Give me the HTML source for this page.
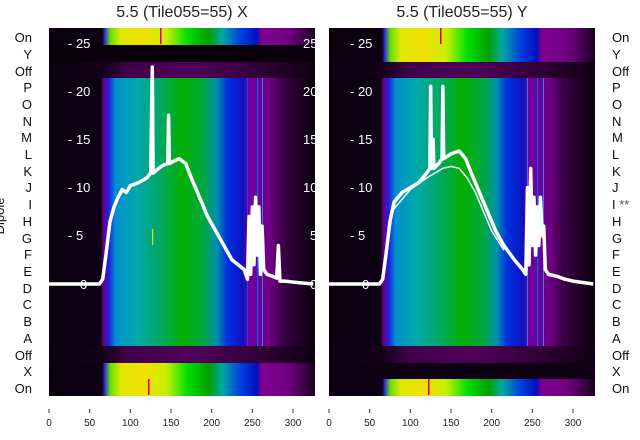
<!DOCTYPE html>
<html><head><meta charset="utf-8"><style>
body{margin:0;background:#fff;}
svg{display:block;font-family:"Liberation Sans","DejaVu Sans",sans-serif;}
</style></head><body>
<svg width="640" height="440" viewBox="0 0 640 440">
<defs>
<linearGradient id="main" x1="0" x2="1" y1="0" y2="0">
<stop offset="0" stop-color="#0b0010"/>
<stop offset="0.195" stop-color="#0e0014"/>
<stop offset="0.205" stop-color="#6a008a"/>
<stop offset="0.225" stop-color="#2020e0"/>
<stop offset="0.25" stop-color="#0090d0"/>
<stop offset="0.33" stop-color="#00a8a8"/>
<stop offset="0.42" stop-color="#00a860"/>
<stop offset="0.5" stop-color="#00b000"/>
<stop offset="0.58" stop-color="#00a840"/>
<stop offset="0.63" stop-color="#0090b0"/>
<stop offset="0.67" stop-color="#0030e0"/>
<stop offset="0.73" stop-color="#1010c0"/>
<stop offset="0.75" stop-color="#7000a0"/>
<stop offset="0.83" stop-color="#700085"/>
<stop offset="0.88" stop-color="#3a0045"/>
<stop offset="1" stop-color="#0a000c"/>
</linearGradient>
<linearGradient id="bright" x1="0" x2="1" y1="0" y2="0">
<stop offset="0" stop-color="#0b0010"/>
<stop offset="0.2" stop-color="#0e0014"/>
<stop offset="0.21" stop-color="#3030e0"/>
<stop offset="0.23" stop-color="#60e000"/>
<stop offset="0.27" stop-color="#e0e800"/>
<stop offset="0.36" stop-color="#f0e000"/>
<stop offset="0.44" stop-color="#c8f000"/>
<stop offset="0.52" stop-color="#00e000"/>
<stop offset="0.6" stop-color="#00a000"/>
<stop offset="0.65" stop-color="#00a8a0"/>
<stop offset="0.72" stop-color="#0040e0"/>
<stop offset="0.78" stop-color="#0010c0"/>
<stop offset="0.8" stop-color="#800090"/>
<stop offset="0.9" stop-color="#700080"/>
<stop offset="1" stop-color="#1a0020"/>
</linearGradient>
<linearGradient id="off" x1="0" x2="1" y1="0" y2="0">
<stop offset="0" stop-color="#0b0010"/>
<stop offset="0.2" stop-color="#14001a"/>
<stop offset="0.3" stop-color="#40004a"/>
<stop offset="0.55" stop-color="#50005a"/>
<stop offset="0.8" stop-color="#300036"/>
<stop offset="1" stop-color="#0e0012"/>
</linearGradient>
<clipPath id="c1"><rect x="49" y="28" width="266" height="368"/></clipPath>
<clipPath id="c2"><rect x="329" y="28" width="266" height="368"/></clipPath>
</defs>

<text x="182" y="17" font-size="16" text-anchor="middle" fill="#222">5.5 (Tile055=55) X</text>
<text x="462" y="17" font-size="16" text-anchor="middle" fill="#222">5.5 (Tile055=55) Y</text>

<!-- Panel 1 -->
<g clip-path="url(#c1)">
<rect x="49" y="28" width="266" height="368" fill="#0b0010"/>
<rect x="49" y="28" width="266" height="17" fill="url(#bright)"/>
<rect x="49" y="45" width="266" height="17" fill="#0a000c"/>
<rect x="49" y="62" width="266" height="16" fill="url(#off)"/>
<rect x="49" y="78" width="266" height="268" fill="url(#main)"/>
<rect x="49" y="346" width="266" height="17" fill="url(#off)"/>
<rect x="49" y="363" width="266" height="33" fill="url(#bright)"/>
<rect x="160" y="28" width="1.5" height="16" fill="#e00000"/>
<rect x="148" y="379" width="1.5" height="16" fill="#e00000"/>
<rect x="152" y="229" width="1.2" height="16" fill="#e0e000"/>
<rect x="247" y="78" width="1" height="268" fill="#2040ff"/>
<rect x="257" y="78" width="1.2" height="268" fill="#0060ff"/>
<rect x="262" y="78" width="1" height="268" fill="#3080ff"/>
<g font-size="13" fill="#fff">
<text x="68" y="48">- 25</text><text x="68" y="96">- 20</text><text x="68" y="144">- 15</text>
<text x="68" y="192">- 10</text><text x="68" y="240">- 5</text><text x="80" y="289">0</text>
<text x="303" y="48">25</text><text x="303" y="96">20</text><text x="303" y="144">15</text>
<text x="303" y="192">10</text><text x="310" y="240">5</text><text x="310" y="289">0</text>
</g>
<g transform="translate(49,284) scale(0.8133,-9.64)">
<polyline vector-effect="non-scaling-stroke" fill="none" stroke="#fff" stroke-width="3.5" stroke-linejoin="round"
points="0,0 62,0 66,0.5 70,3 75,6.5 80,8 85,9 90,9.8 95,9.5 100,10.2 110,10.5 120,11 125,11.5 127,22.5 128,11.5 135,12 140,12.3 146,12.5 147,17.5 148,12.5 155,12.8 160,13 168,12.5 175,11 185,9 195,7 205,5.5 215,4 225,2.5 240,1.5 244,0.5 246,7 248,1 250,8 252,2 254,9 256,3 258,8 260,1 262,6 264,1.5 268,1 275,0.8 280,0.6 282,4 284,0.3 290,0.3 300,0.2 325,0"/>
</g>
</g>

<!-- Panel 2 -->
<g clip-path="url(#c2)">
<rect x="329" y="28" width="266" height="368" fill="#0b0010"/>
<rect x="329" y="28" width="266" height="34" fill="url(#bright)"/>
<rect x="329" y="62" width="266" height="16" fill="url(#off)"/>
<rect x="329" y="78" width="266" height="268" fill="url(#main)"/>
<rect x="329" y="346" width="266" height="17" fill="url(#off)"/>
<rect x="329" y="363" width="266" height="16" fill="#0e0012"/>
<rect x="329" y="379" width="266" height="17" fill="url(#bright)"/>
<rect x="440" y="28" width="1.5" height="16" fill="#e00000"/>
<rect x="428" y="379" width="1.5" height="16" fill="#e00000"/>
<rect x="527" y="78" width="1" height="268" fill="#2080ff"/>
<rect x="537" y="78" width="1.2" height="268" fill="#0060ff"/>
<rect x="543" y="78" width="1" height="268" fill="#3080ff"/>
<g font-size="13" fill="#fff">
<text x="350" y="48">- 25</text><text x="350" y="96">- 20</text><text x="350" y="144">- 15</text>
<text x="350" y="192">- 10</text><text x="350" y="240">- 5</text><text x="362" y="289">0</text>
</g>
<g transform="translate(329,284) scale(0.8133,-9.64)">
<polyline vector-effect="non-scaling-stroke" fill="none" stroke="#fff" stroke-width="3.5" stroke-linejoin="round"
points="0,0 62,0 66,0.5 70,3 75,6.5 80,8.5 90,9.5 100,10 110,10.5 120,11.5 124,12 125,20.5 126,12 128,15 129,12 135,12.5 139,13 140,20.5 141,13 150,13.5 160,13.8 168,13 175,11.5 185,9.5 195,7.5 205,5.5 215,4 228,2.5 238,1.5 242,1 244,10 246,2 248,12 250,4 252,9 254,3 256,8 258,4 260,9 262,5 264,6 266,1.5 270,1 280,0.8 290,0.5 300,0.3 325,0"/>
<polyline vector-effect="non-scaling-stroke" fill="none" stroke="#fff" stroke-width="1.5" stroke-linejoin="round"
points="80,7.8 100,9.8 120,11 140,12 150,12.2 160,12 170,11 180,9.5 190,7.5 200,5.5 215,3.5"/>
</g>
</g>

<!-- left labels panel 1 -->
<g font-size="13" fill="#111" text-anchor="end">
<text x="32" y="42">On</text><text x="32" y="59">Y</text><text x="32" y="76">Off</text>
<text x="32" y="92">P</text><text x="32" y="109">O</text><text x="32" y="126">N</text>
<text x="32" y="142">M</text><text x="32" y="159">L</text><text x="32" y="176">K</text>
<text x="32" y="192">J</text><text x="32" y="209">I</text><text x="32" y="226">H</text>
<text x="32" y="243">G</text><text x="32" y="259">F</text><text x="32" y="276">E</text>
<text x="32" y="293">D</text><text x="32" y="309">C</text><text x="32" y="326">B</text>
<text x="32" y="343">A</text><text x="32" y="360">Off</text><text x="32" y="376">X</text>
<text x="32" y="393">On</text>
</g>
<text transform="translate(4,216) rotate(-90)" font-size="13" fill="#111" text-anchor="middle">Dipole</text>

<!-- right labels panel 2 -->
<g font-size="13" fill="#111">
<text x="612" y="42">On</text><text x="612" y="59">Y</text><text x="612" y="76">Off</text>
<text x="612" y="92">P</text><text x="612" y="109">O</text><text x="612" y="126">N</text>
<text x="612" y="142">M</text><text x="612" y="159">L</text><text x="612" y="176">K</text>
<text x="612" y="192">J</text><text x="612" y="209">I <tspan fill="#555">**</tspan></text><text x="612" y="226">H</text>
<text x="612" y="243">G</text><text x="612" y="259">F</text><text x="612" y="276">E</text>
<text x="612" y="293">D</text><text x="612" y="309">C</text><text x="612" y="326">B</text>
<text x="612" y="343">A</text><text x="612" y="360">Off</text><text x="612" y="376">X</text>
<text x="612" y="393">On</text>
</g>

<!-- x ticks -->
<g stroke="#333" stroke-width="1">
<line x1="49" x2="49" y1="409" y2="413"/><line x1="89.7" x2="89.7" y1="409" y2="413"/><line x1="130.3" x2="130.3" y1="409" y2="413"/><line x1="171" x2="171" y1="409" y2="413"/><line x1="211.7" x2="211.7" y1="409" y2="413"/><line x1="252.3" x2="252.3" y1="409" y2="413"/><line x1="293" x2="293" y1="409" y2="413"/>
<line x1="329" x2="329" y1="409" y2="413"/><line x1="369.7" x2="369.7" y1="409" y2="413"/><line x1="410.3" x2="410.3" y1="409" y2="413"/><line x1="451" x2="451" y1="409" y2="413"/><line x1="491.7" x2="491.7" y1="409" y2="413"/><line x1="532.3" x2="532.3" y1="409" y2="413"/><line x1="573" x2="573" y1="409" y2="413"/>
</g>
<g font-size="10" fill="#222" text-anchor="middle">
<text x="49" y="426">0</text><text x="89.7" y="426">50</text><text x="130.3" y="426">100</text><text x="171" y="426">150</text><text x="211.7" y="426">200</text><text x="252.3" y="426">250</text><text x="293" y="426">300</text>
<text x="329" y="426">0</text><text x="369.7" y="426">50</text><text x="410.3" y="426">100</text><text x="451" y="426">150</text><text x="491.7" y="426">200</text><text x="532.3" y="426">250</text><text x="573" y="426">300</text>
</g>
</svg>
</body></html>
